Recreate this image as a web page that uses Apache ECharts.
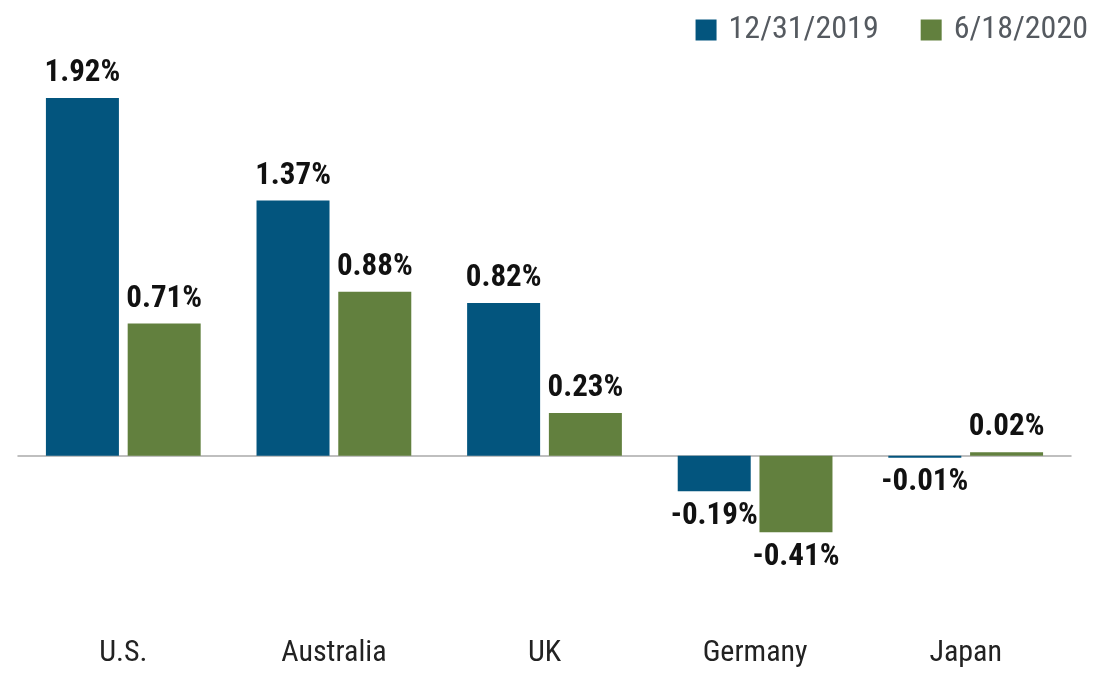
<!DOCTYPE html>
<html>
<head>
<meta charset="utf-8">
<script src="https://cdn.jsdelivr.net/npm/echarts@6/dist/echarts.min.js"></script>
<style>
  html, body { margin: 0; padding: 0; background: #fff; }
  #chart { width: 1101px; height: 689px; }
</style>
</head>
<body>
<div id="chart"></div>
<script>
// 数据
var categories = ['U.S.', 'Australia', 'UK', 'Germany', 'Japan'];
var yields2019 = [1.92, 1.37, 0.82, -0.19, -0.01];
var yields2020 = [0.71, 0.88, 0.23, -0.41, 0.02];
var seriesNames = ['12/31/2019', '6/18/2020'];

var FONT = "'Roboto Condensed', 'Liberation Sans Narrow', 'Roboto', sans-serif";

function withLabels(values) {
    return values.map(function (v) {
        return {
            value: v,
            label: { position: v < 0 ? 'bottom' : 'top' }
        };
    });
}

var labelStyle = {
    show: true,
    distance: 9,
    fontFamily: FONT,
    fontSize: 31,
    fontWeight: 'bold',
    color: '#111',
    formatter: function (p) { return p.value.toFixed(2) + '%'; }
};

var myChart = echarts.init(document.getElementById('chart'));

var option = {
    animation: false,
    legend: {
        right: 8,
        top: 9,
        itemWidth: 21,
        itemHeight: 21,
        itemGap: 42,
        icon: 'rect',
        textStyle: { fontFamily: FONT, fontSize: 32, color: '#555a60', padding: [0, 0, 0, 7] },
        data: seriesNames
    },
    grid: { left: 18, right: 30, top: 83, bottom: 84 },
    xAxis: [
        {
            type: 'category',
            data: categories,
            axisLine: { show: false, onZero: false },
            axisTick: { show: false },
            axisLabel: { margin: 33, fontFamily: FONT, fontSize: 30, color: '#222' }
        },
        {
            type: 'category',
            data: categories,
            axisLine: { show: true, onZero: true, lineStyle: { color: '#aaaaaa', width: 1.5 } },
            axisTick: { show: false },
            axisLabel: { show: false }
        }
    ],
    yAxis: {
        type: 'value',
        min: -0.8,
        max: 2.0,
        show: false,
        splitLine: { show: false }
    },
    series: [
        {
            name: seriesNames[0],
            type: 'bar',
            barWidth: 73,
            barGap: '12%',
            itemStyle: { color: '#03557e' },
            label: labelStyle,
            data: withLabels(yields2019)
        },
        {
            name: seriesNames[1],
            type: 'bar',
            barWidth: 73,
            barGap: '12%',
            itemStyle: { color: '#62803e' },
            label: labelStyle,
            data: withLabels(yields2020)
        }
    ]
};

myChart.setOption(option);
</script>
</body>
</html>
